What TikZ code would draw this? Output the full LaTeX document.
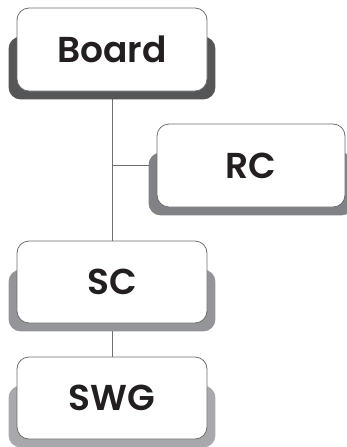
\documentclass[tikz,border=0pt]{standalone}
\usepackage{fontspec}
\newfontfamily\boxfont{Poppins}[UprightFont={* SemiBold}]
\usetikzlibrary{backgrounds,calc}
\definecolor{edgegrey}{HTML}{6D6E71}
\definecolor{inkdark}{HTML}{231F20}
\definecolor{shadeA}{HTML}{555658}
\definecolor{shadeB}{HTML}{808285}
\definecolor{shadeC}{HTML}{939598}
\definecolor{shadeD}{HTML}{A7A9AC}
\tikzset{
  orgbox/.style={draw=edgegrey, line width=0.8pt, fill=white, rounded corners=12pt,
    minimum width=190pt, minimum height=83pt, inner sep=0pt,
    font=\boxfont\fontsize{36}{42}\selectfont, text=inkdark},
  link/.style={draw=edgegrey, line width=0.9pt},
}
% grey backing plate behind the lower part of a box
\newcommand\boxshade[2]{%
  \fill[#2, rounded corners=12pt]
    ($(#1.south west)+(-8pt,-8pt)$) rectangle ($(#1.north east)+(8pt,-29pt)$);}
\begin{document}
\begin{tikzpicture}[x=1pt,y=1pt]
\useasboundingbox (0,0) rectangle (347,-447);
\clip (0,0) rectangle (347,-447);
\node[orgbox] (board) at (112,-49.5) {Board};
\node[orgbox, minimum width=188pt] (rc) at (251,-165.5) {RC};
\node[orgbox, minimum height=82pt] (sc) at (112,-282) {SC};
\node[orgbox, minimum height=82pt] (swg) at (112,-398) {SWG};
\coordinate (fork) at (board.south |- rc.west);
\coordinate (rcin) at ($(rc.west)+(-8pt,0)$);
\begin{pgfonlayer}{background}
  \draw[link] (board.south) -- (sc.north);
  \draw[link] (sc.south) -- (swg.north);
  \draw[link] (fork) -- (rcin);
  \boxshade{board}{shadeA}
  \boxshade{rc}{shadeB}
  \boxshade{sc}{shadeC}
  \boxshade{swg}{shadeD}
\end{pgfonlayer}
\end{tikzpicture}
\end{document}
